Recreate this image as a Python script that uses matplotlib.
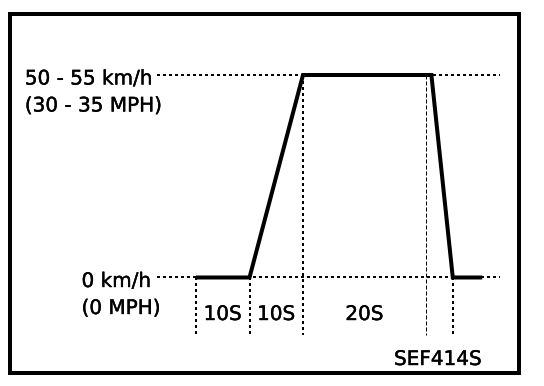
import matplotlib
matplotlib.use("Agg")
import matplotlib.pyplot as plt
import matplotlib.patheffects as pe
from matplotlib.patches import Rectangle

# speed profile (schematic, not to scale)
time_s = [0, 10, 20, 44, 48, 53.5]
speed_kmh = [0, 0, 55, 55, 0, 0]

# phase boundaries and their labels
phase_edges = [0, 10, 20, 43]
phase_labels = ["10S", "10S", "20S"]

speed_levels = [55, 0]
level_labels = [("50 - 55 km/h", "(30 - 35 MPH)"), ("0 km/h", "(0 MPH)")]
level_label_x = [-32, -21.4]

ref_line_span = (-7.3, 56.8)
tick_bottom = -15.6
foot_time = time_s[4]

W, H, DPI = 544, 386, 100
PX = 72 / DPI  # points per pixel

plt.rcParams['font.family'] = ['DejaVu Sans']
FS = 20 * PX

fig = plt.figure(figsize=(W / DPI, H / DPI), dpi=DPI)
ax = fig.add_axes([0, 0, 1, 1])
ax.set_xlim(-36.64, 65.05)
ax.set_ylim(-29.47, 75.37)
ax.axis("off")

dotted = dict(color="black", lw=2 * PX, linestyle=(0, (1.5, 1.5)))

# reference levels
for lvl in speed_levels:
    ax.plot(ref_line_span, [lvl, lvl], **dotted)

# phase markers
for t in phase_edges[:3]:
    top = speed_kmh[time_s.index(t)] if t in time_s else 0
    ax.plot([t, t], [top, tick_bottom], **dotted)
ax.plot([phase_edges[3]] * 2, [speed_levels[0], tick_bottom],
        color="black", lw=1 * PX, linestyle=(0, (4, 2)))
ax.plot([foot_time] * 2, [0, tick_bottom], **dotted)

# speed profile
ax.plot(time_s, speed_kmh, color="black", lw=4 * PX,
        solid_joinstyle="miter", solid_capstyle="butt")

heavier = [pe.withStroke(linewidth=0.3, foreground="black")]


def label(x, y, s, dy_px, ha="left"):
    ax.annotate(s, xy=(x, y), xytext=(0, -dy_px * PX), textcoords="offset points",
                ha=ha, va="baseline", fontsize=FS, color="black",
                path_effects=heavier)


for lvl, (l1, l2), lx in zip(speed_levels, level_labels, level_label_x):
    label(lx, lvl, l1, 9.5)
    label(lx, lvl, l2, 36.5)

for a, b, s in zip(phase_edges[:-1], phase_edges[1:], phase_labels):
    label((a + b) / 2, 0, s, 42.5, ha="center")

label(45.2, 0, "SEF414S", 87.5, ha="center")

# frame
fig.patches.append(Rectangle((10 / W, 1 - 373 / H), 509 / W, 359 / H,
                             transform=fig.transFigure, fill=False,
                             edgecolor="black", lw=4 * PX))

fig.savefig("out.png", dpi=DPI)
